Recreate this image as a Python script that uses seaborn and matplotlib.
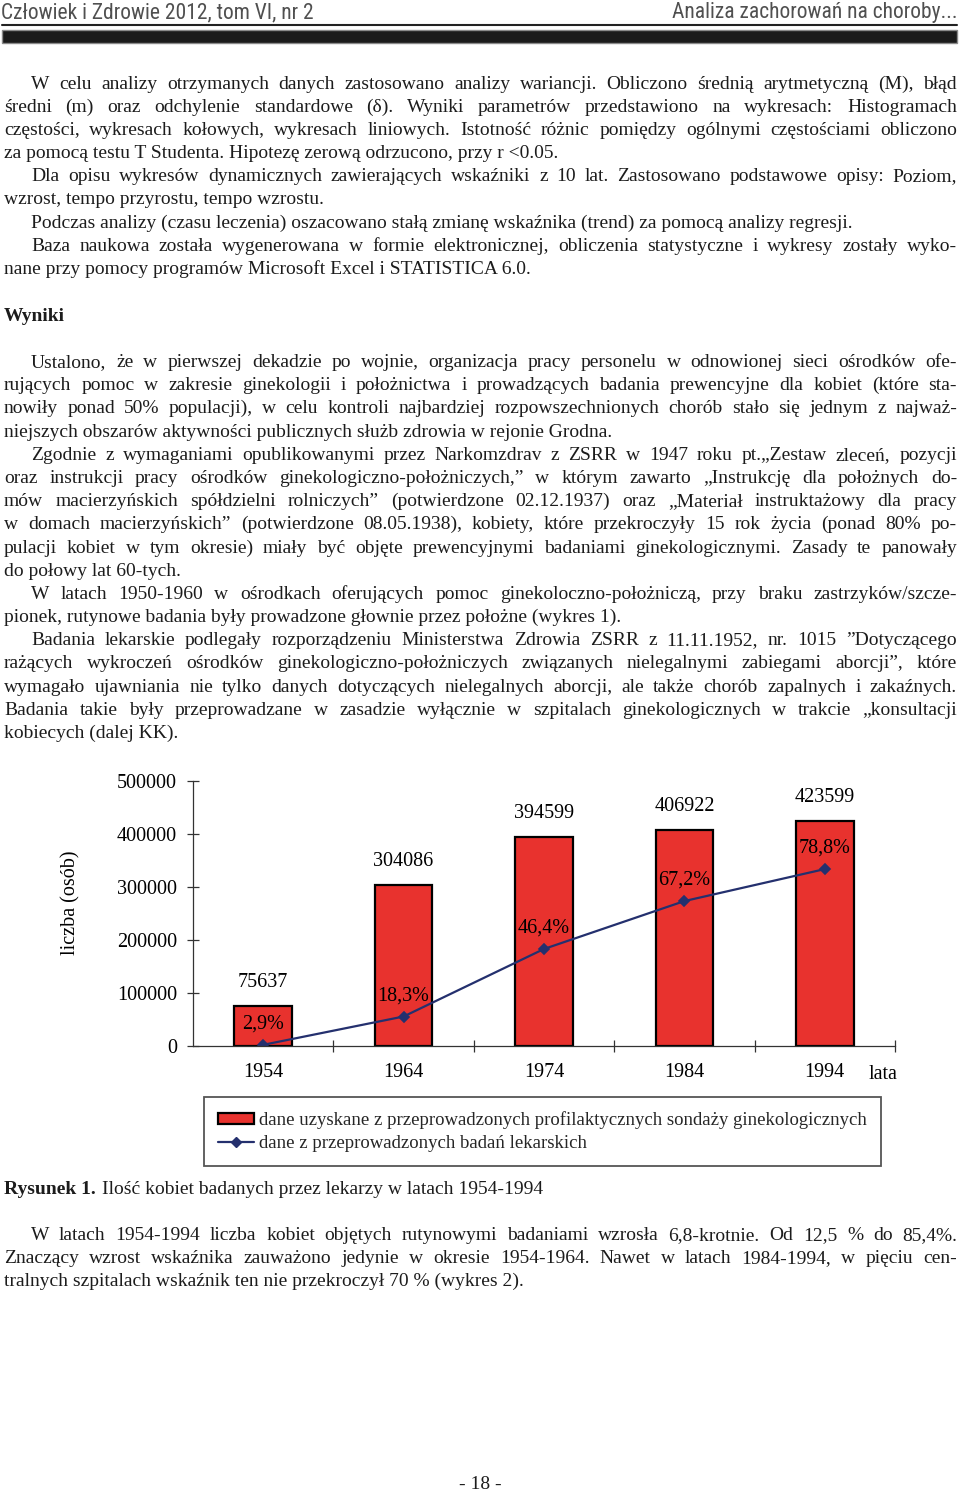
import matplotlib
matplotlib.use("Agg")
import matplotlib.pyplot as plt
import numpy as np
import pandas as pd
import seaborn as sns
from matplotlib import font_manager
from matplotlib.lines import Line2D
from matplotlib.patches import Patch, Rectangle

# dane wykresu
lata = ["1954", "1964", "1974", "1984", "1994"]
liczba_kobiet = [75637, 304086, 394599, 406922, 423599]
procent_badanych = [2.9, 18.3, 46.4, 67.2, 78.8]
etykiety_procent = ["2,9%", "18,3%", "46,4%", "67,2%", "78,8%"]
podzialka_y = [0, 100000, 200000, 300000, 400000, 500000]
legenda_slupki = "dane uzyskane z przeprowadzonych profilaktycznych sondaży ginekologicznych"
legenda_linia = "dane z przeprowadzonych badań lekarskich"

naglowek_lewy = "Człowiek i Zdrowie 2012, tom VI, nr 2"
naglowek_prawy = "Analiza zachorowań na choroby..."

# tekst strony: akapity (lista linii)
blok1 = [
    ["W celu analizy otrzymanych danych zastosowano analizy wariancji. Obliczono średnią arytmetyczną (M), błąd",
     "średni (m) oraz odchylenie standardowe (δ). Wyniki parametrów przedstawiono na wykresach: Histogramach",
     "częstości, wykresach kołowych, wykresach liniowych. Istotność różnic pomiędzy ogólnymi częstościami obliczono",
     "za pomocą testu T Studenta. Hipotezę zerową odrzucono, przy r <0.05."],
    ["Dla opisu wykresów dynamicznych zawierających wskaźniki z 10 lat. Zastosowano podstawowe opisy: Poziom,",
     "wzrost, tempo przyrostu, tempo wzrostu."],
    ["Podczas analizy (czasu leczenia) oszacowano stałą zmianę wskaźnika (trend) za pomocą analizy regresji."],
    ["Baza naukowa została wygenerowana w formie elektronicznej, obliczenia statystyczne i wykresy zostały wyko-",
     "nane przy pomocy programów Microsoft Excel i STATISTICA 6.0."],
]
blok2 = [
    ["Ustalono, że w pierwszej dekadzie po wojnie, organizacja pracy personelu w odnowionej sieci ośrodków ofe-",
     "rujących pomoc w zakresie ginekologii i położnictwa i prowadzących badania prewencyjne dla kobiet (które sta-",
     "nowiły ponad 50% populacji), w celu kontroli najbardziej rozpowszechnionych chorób stało się jednym z najważ-",
     "niejszych obszarów aktywności publicznych służb zdrowia w rejonie Grodna."],
    ["Zgodnie z wymaganiami opublikowanymi przez Narkomzdrav z ZSRR w 1947 roku pt.„Zestaw zleceń, pozycji",
     "oraz instrukcji pracy ośrodków ginekologiczno-położniczych,” w którym zawarto „Instrukcję dla położnych do-",
     "mów macierzyńskich spółdzielni rolniczych” (potwierdzone 02.12.1937) oraz „Materiał instruktażowy dla pracy",
     "w domach macierzyńskich” (potwierdzone 08.05.1938), kobiety, które przekroczyły 15 rok życia (ponad 80% po-",
     "pulacji kobiet w tym okresie) miały być objęte prewencyjnymi badaniami ginekologicznymi. Zasady te panowały",
     "do połowy lat 60-tych."],
    ["W latach 1950-1960 w ośrodkach oferujących pomoc ginekoloczno-położniczą, przy braku zastrzyków/szcze-",
     "pionek, rutynowe badania były prowadzone głownie przez położne (wykres 1)."],
    ["Badania lekarskie podlegały rozporządzeniu Ministerstwa Zdrowia ZSRR z 11.11.1952, nr. 1015 ”Dotyczącego",
     "rażących wykroczeń ośrodków ginekologiczno-położniczych związanych nielegalnymi zabiegami aborcji”, które",
     "wymagało ujawniania nie tylko danych dotyczących nielegalnych aborcji, ale także chorób zapalnych i zakaźnych.",
     "Badania takie były przeprowadzane w zasadzie wyłącznie w szpitalach ginekologicznych w trakcie „konsultacji",
     "kobiecych (dalej KK)."],
]
blok3 = [
    ["W latach 1954-1994 liczba kobiet objętych rutynowymi badaniami wzrosła 6,8-krotnie. Od 12,5 % do 85,4%.",
     "Znaczący wzrost wskaźnika zauważono jedynie w okresie 1954-1964. Nawet w latach 1984-1994, w pięciu cen-",
     "tralnych szpitalach wskaźnik ten nie przekroczył 70 % (wykres 2)."],
]
tytul_sekcji = "Wyniki"
podpis_bold = "Rysunek 1."
podpis = "Ilość kobiet badanych przez lekarzy w latach 1954-1994"
stopka = "- 18 -"

W, H = 960, 1492
CZERWONY = "#E8322E"
GRANAT = "#24306E"
TEKST = "#1c1c1c"


def dostepna(nazwa):
    try:
        font_manager.findfont(font_manager.FontProperties(family=nazwa), fallback_to_default=False)
        return True
    except ValueError:
        return False


SERIF = "Liberation Serif" if dostepna("Liberation Serif") else "DejaVu Serif"
NARROW = "Liberation Sans"
for kandydat in ("Liberation Sans Narrow", "Roboto Condensed", "Open Sans Condensed", "Roboto"):
    if dostepna(kandydat):
        NARROW = kandydat
        break

sns.set_theme(style="white")
plt.rcParams["font.family"] = [SERIF, "DejaVu Serif"]

fig = plt.figure(figsize=(W / 100, H / 100), dpi=100)
fig.patch.set_facecolor("white")
renderer = fig.canvas.get_renderer()


def fx(px):
    return px / W


def fy(py):
    return 1 - py / H


def szerokosc(txt, **kw):
    t = fig.text(0, 0, txt, **kw)
    w = t.get_window_extent(renderer).width
    t.remove()
    return w


# naglowek
rozm_nagl = 15
w_nagl = szerokosc(naglowek_lewy, fontsize=rozm_nagl, family=NARROW)
rozm_nagl = min(15.5, rozm_nagl * 365 / w_nagl)
fig.text(fx(1), fy(18), naglowek_lewy, fontsize=rozm_nagl, family=NARROW, color="#505050", va="baseline")
fig.text(fx(957), fy(18), naglowek_prawy, fontsize=rozm_nagl, family=NARROW, color="#505050",
         va="baseline", ha="right")
fig.add_artist(Line2D([fx(2), fx(957)], [fy(25), fy(25)], color="#222222", lw=1.5))
fig.add_artist(Rectangle((fx(2), fy(43)), fx(955), 13 / H, facecolor="#1b1b1b",
                         edgecolor="#8a8a8a", lw=1))

# dobor rozmiaru czcionki tekstu, by najdluzsze linie sie miescily
L, P, WCIECIE = 4, 957, 31
proby = []
for blok in (blok1, blok2, blok3):
    for akapit in blok:
        for j, linia in enumerate(akapit[:-1]):
            x0 = L + (WCIECIE - L if j == 0 else 0)
            slowa = linia.split(" ")
            suma = sum(szerokosc(s, fontsize=10, family=SERIF) for s in slowa)
            suma += (len(slowa) - 1) * 0.17 * 10 * 100 / 72
            proby.append((P - x0) / suma)
ROZM = min(14.0, 10 * min(proby))


def rysuj_linie(tekst, x0, yb, justuj, **kw):
    if not justuj:
        fig.text(fx(x0), fy(yb), tekst, va="baseline", ha="left", **kw)
        return
    slowa = tekst.split(" ")
    szer = [szerokosc(s, **kw) for s in slowa]
    odstep = (P - x0 - sum(szer)) / (len(slowa) - 1)
    x = x0
    for s, w in zip(slowa, szer):
        fig.text(fx(x), fy(yb), s, va="baseline", ha="left", **kw)
        x += w + odstep


def rysuj_blok(blok, y_start, krok):
    y = y_start
    for akapit in blok:
        for j, linia in enumerate(akapit):
            x0 = WCIECIE if j == 0 else L
            rysuj_linie(linia, x0, y, j < len(akapit) - 1,
                        fontsize=ROZM, family=SERIF, color=TEKST)
            y += krok


rysuj_blok(blok1, 89, 23.1)
fig.text(fx(L), fy(321), tytul_sekcji, fontsize=ROZM, family=SERIF, weight="bold",
         color=TEKST, va="baseline")
rysuj_blok(blok2, 367, 23.19)

# podpis
w_b = szerokosc(podpis_bold + " ", fontsize=ROZM, family=SERIF, weight="bold")
fig.text(fx(L), fy(1194), podpis_bold, fontsize=ROZM, family=SERIF, weight="bold",
         color=TEKST, va="baseline")
fig.text(fx(L + w_b + 1), fy(1194), podpis, fontsize=ROZM, family=SERIF, color=TEKST, va="baseline")
rysuj_blok(blok3, 1240, 23.1)
fig.text(0.5, fy(1489), stopka, fontsize=ROZM, family=SERIF, color=TEKST, va="baseline", ha="center")

# wykres
badane = [n * p / 100 for n, p in zip(liczba_kobiet, procent_badanych)]
df = pd.DataFrame({"rok": lata, "liczba": liczba_kobiet, "badane": badane})

ax = fig.add_axes([fx(193), fy(1046), fx(895) - fx(193), (1046 - 781) / H])
ax.set_facecolor("none")
sns.barplot(data=df, x="rok", y="liczba", color=CZERWONY, width=0.41, saturation=1,
            edgecolor="black", linewidth=1.6, ax=ax)
sns.pointplot(data=df, x="rok", y="badane", color=GRANAT, markers="D", markersize=5.5,
              linewidth=1.6, errorbar=None, ax=ax)

ax.set_xlim(-0.5, 4.5)
ax.set_ylim(0, 500000)
ax.set_yticks(podzialka_y)
ax.set_yticklabels([str(v) for v in podzialka_y])
ax.set_xticks(np.arange(0.5, 5, 1), minor=True)
ax.set_xlabel("")
ax.set_ylabel("")
ax.grid(False)
for s in ("top", "right"):
    ax.spines[s].set_visible(False)
for s in ("left", "bottom"):
    ax.spines[s].set_color("#333333")
    ax.spines[s].set_linewidth(0.9)
ax.tick_params(axis="y", left=True, direction="inout", length=9, width=0.9, color="#333333",
               pad=7, labelsize=14.5, labelcolor="black")
ax.tick_params(axis="x", which="major", bottom=True, length=0, pad=12, labelsize=14.5,
               labelcolor="black")
ax.tick_params(axis="x", which="minor", bottom=True, direction="inout", length=9, width=0.9,
               color="#333333")

for i, n in enumerate(liczba_kobiet):
    ax.annotate(str(n), (i, n), xytext=(0, 17), textcoords="offset points", ha="center",
                va="center", fontsize=14.5, color="black")
for i, (b, et) in enumerate(zip(badane, etykiety_procent)):
    ax.annotate(et, (i, b), xytext=(0, 15), textcoords="offset points", ha="center",
                va="center", fontsize=14.5, color="black")

ax.text(-0.174, 0.54, "liczba (osób)", transform=ax.transAxes, rotation=90, ha="center",
        va="center", fontsize=14.5, color="black")
ax.text(0.983, -0.109, "lata", transform=ax.transAxes, ha="center", va="center",
        fontsize=14.5, color="black")

uchwyty = [Patch(facecolor=CZERWONY, edgecolor="black", linewidth=1.6, label=legenda_slupki),
           Line2D([], [], color=GRANAT, marker="D", markersize=5.5, lw=1.6, label=legenda_linia)]
leg = fig.legend(handles=uchwyty, loc="upper left", bbox_to_anchor=(fx(204), fy(1097)),
                 frameon=True, fancybox=False, edgecolor="#555555", framealpha=1,
                 fontsize=13.5, handlelength=1.9, handleheight=0.5, handletextpad=0.3,
                 borderpad=0.75, labelspacing=0.3, borderaxespad=0)
leg.get_frame().set_linewidth(1.3)

fig.savefig("out.png", dpi=100)
